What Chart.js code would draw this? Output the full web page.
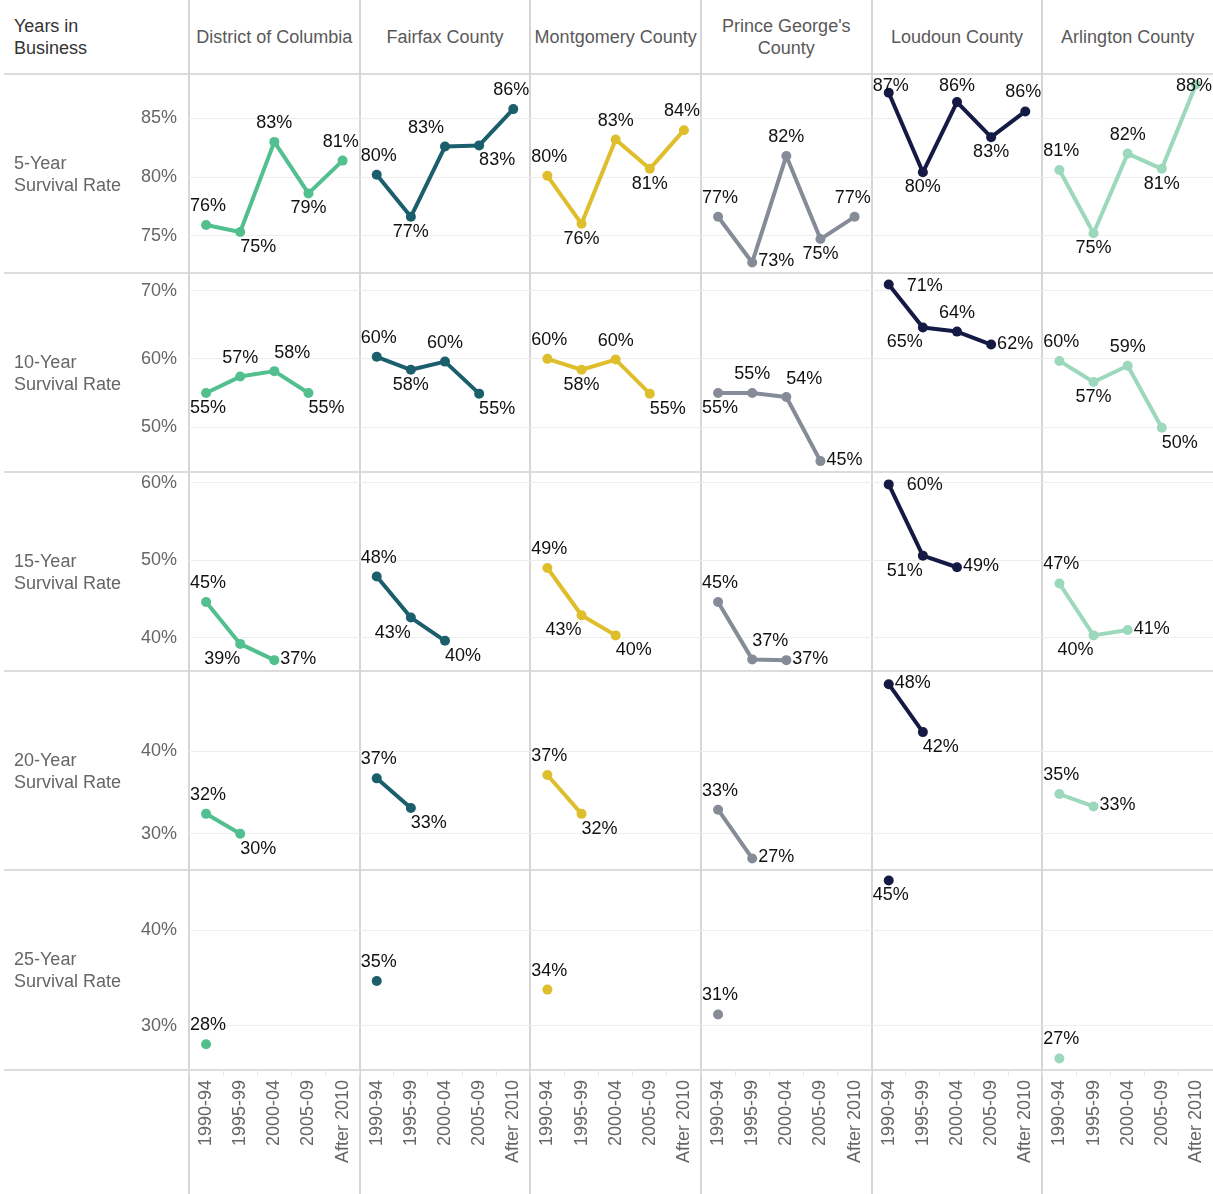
<!DOCTYPE html>
<html>
<head>
<meta charset="utf-8">
<title>Business Survival Rates by Jurisdiction</title>
<script src="https://cdn.jsdelivr.net/npm/chart.js@4.4.1/dist/chart.umd.min.js"></script>
<style>
  html, body { margin: 0; padding: 0; background: #fff; }
  #wrap { position: relative; width: 1213px; height: 1194px; overflow: hidden;
          font-family: 'Liberation Sans', Arial, sans-serif; background: #fff; }
  #wrap canvas { position: absolute; left: 0; z-index: 2; }
  .txt { position: absolute; display: flex; align-items: center; font-size: 18px;
         line-height: 22px; white-space: nowrap; z-index: 3; }
  .colhead { justify-content: center; text-align: center; color: #595959; }
  .rule { position: absolute; z-index: 1; }
</style>
</head>
<body>
<div id="wrap"></div>
<script>
// ---- data -------------------------------------------------------------
const periods = ['1990-94', '1995-99', '2000-04', '2005-09', 'After 2010'];
const counties = ['District of Columbia', 'Fairfax County', 'Montgomery County',
                  "Prince George's County", 'Loudoun County', 'Arlington County'];
const horizons = ['5-Year', '10-Year', '15-Year', '20-Year', '25-Year'];

// survival rate (%) per county, one sub-array per county, in period order
const fiveYear = [
  [75.9, 75.3, 83.0, 78.6, 81.4],
  [80.2, 76.6, 82.6, 82.7, 85.8],
  [80.1, 76.0, 83.2, 80.7, 84.0],
  [76.6, 72.7, 81.8, 74.7, 76.6],
  [87.2, 80.4, 86.4, 83.4, 85.6],
  [80.6, 75.2, 82.0, 80.7, 87.9]
];
const tenYear = [
  [55.0, 57.4, 58.2, 55.0],
  [60.3, 58.4, 59.6, 54.9],
  [60.0, 58.4, 59.9, 54.9],
  [55.0, 55.0, 54.4, 45.0],
  [70.9, 64.6, 64.0, 62.1],
  [59.7, 56.6, 59.0, 49.9]
];
const fifteenYear = [
  [44.6, 39.2, 37.1],
  [47.9, 42.6, 39.6],
  [49.0, 42.9, 40.3],
  [44.6, 37.2, 37.1],
  [59.8, 50.6, 49.1],
  [47.0, 40.3, 41.0]
];
const twentyYear = [
  [32.4, 30.0],
  [36.7, 33.1],
  [37.1, 32.4],
  [32.9, 27.0],
  [48.1, 42.3],
  [34.8, 33.3]
];
const twentyFiveYear = [
  [28.1],
  [34.7],
  [33.8],
  [31.2],
  [45.2],
  [26.6]
];
const rowSeries = [fiveYear, tenYear, fifteenYear, twentyYear, twentyFiveYear];

// y tick labels for each row
const yTickValues = [[75, 80, 85], [50, 60, 70], [40, 50, 60], [30, 40], [30, 40]];

// ---- styling ----------------------------------------------------------
const countyColors = ['#52bf8e', '#1b5e6c', '#dfbe2c', '#858c97', '#151a45', '#9bd8bc'];
const yRanges = [[71.8, 88.8], [43.4, 72.6], [35.7, 61.4], [25.6, 49.7], [25.4, 46.3]];

// where each value label sits around its point
const labelSpots = [
  [['T','BR','T','B','T'], ['T','B','TL','BR','T'], ['T','B','T','B','T'],
   ['T','R','T','B','T'], ['T','B','T','B','T'], ['T','B','T','B','T']],
  [['B','T','TR','BR'], ['T','B','T','BR'], ['T','B','T','BR'],
   ['B','T','TR','R'], ['RR','BL','T','R'], ['T','B','T','BR']],
  [['T','BL','R'], ['T','BL','BR'], ['T','BL','BR'],
   ['T','TR','R'], ['RR','BL','R'], ['T','BL','R']],
  [['T','BR'], ['T','BR'], ['T','BR'], ['T','R'], ['R','BR'], ['T','R']],
  [['T'], ['T'], ['T'], ['T'], ['B'], ['T']]
];
const spotOffsets = { T: [0, -19], B: [0, 15], R: [24, -1], RR: [36, 1],
                      TR: [18, -18], BR: [18, 15], BL: [-18, 15], TL: [-19, -19] };

// ---- layout -----------------------------------------------------------
const W = 1213, H = 1194, PLOT_LEFT = 189;
const rowEdges = [74, 273, 472, 671, 870, 1070];
const AXIS_H = H - rowEdges[rowEdges.length - 1];
const colW = (W - PLOT_LEFT) / counties.length;
const FONT = "'Liberation Sans', Arial, sans-serif";

const wrap = document.getElementById('wrap');

function addText(html, left, top, width, height, cls, color) {
  const d = document.createElement('div');
  d.className = 'txt ' + (cls || '');
  d.style.left = left + 'px'; d.style.top = top + 'px';
  d.style.width = width + 'px'; d.style.height = height + 'px';
  if (color) d.style.color = color;
  d.innerHTML = html;
  wrap.appendChild(d);
}
function addRule(left, top, width, height, color) {
  const d = document.createElement('div');
  d.className = 'rule';
  Object.assign(d.style, { left: left + 'px', top: top + 'px', width: width + 'px',
                           height: height + 'px', background: color });
  wrap.appendChild(d);
}

// headers
addText('Years in<br>Business', 14, 0, 170, rowEdges[0], '', '#333');
counties.forEach((name, c) => {
  const html = name === "Prince George's County" ? "Prince George's<br>County" : name;
  addText(html, PLOT_LEFT + c * colW, 0, colW, rowEdges[0], 'colhead');
});
horizons.forEach((h, r) => {
  addText(h + '<br>Survival Rate', 14, rowEdges[r], 120, rowEdges[r + 1] - rowEdges[r], '', '#666');
});

// panel rules (beneath the transparent chart canvases)
rowEdges.forEach(y => addRule(4, y - 1, W - 4, 2, '#dcdcdc'));
for (let c = 0; c < counties.length; c++) {
  addRule(Math.round(PLOT_LEFT + c * colW) - 1, 0, 2, H, '#d6d6d6');
}

// value labels drawn next to every point
const valueLabels = {
  id: 'valueLabels',
  afterDatasetsDraw(chart, args, opts) {
    const ctx = chart.ctx, area = chart.chartArea;
    const cw = (area.right - area.left) / counties.length;
    ctx.save();
    ctx.font = '18px ' + FONT;
    ctx.fillStyle = '#111';
    ctx.textAlign = 'center';
    ctx.textBaseline = 'middle';
    chart.data.datasets.forEach((ds, c) => {
      const meta = chart.getDatasetMeta(c);
      meta.data.forEach((pt, i) => {
        const v = ds.data[i];
        if (v === null || v === undefined) return;
        const k = i - c * periods.length;
        const code = (opts.spots[c] && opts.spots[c][k]) || 'T';
        const [dx, dy] = spotOffsets[code];
        const text = Math.round(v) + '%';
        const tw = ctx.measureText(text).width, th = 18;
        const l = area.left + c * cw, r = l + cw;
        let x = pt.x + dx, y = pt.y + dy;
        x = Math.min(Math.max(x, l + tw / 2 + 1), r - tw / 2 - 1);
        y = Math.min(Math.max(y, area.top + th / 2 + 3), area.bottom - th / 2 - 2);
        ctx.fillText(text, x, y);
      });
    });
    ctx.restore();
  }
};

// one chart per survival horizon, all six jurisdictions side by side
const categoryLabels = counties.flatMap(() => periods);

rowSeries.forEach((series, r) => {
  const last = r === rowSeries.length - 1;
  const top = rowEdges[r];
  const h = rowEdges[r + 1] - rowEdges[r] + (last ? AXIS_H : 0);
  const canvas = document.createElement('canvas');
  canvas.width = W; canvas.height = h;
  canvas.style.top = top + 'px';
  canvas.style.width = W + 'px'; canvas.style.height = h + 'px';
  wrap.appendChild(canvas);

  const datasets = series.map((vals, c) => {
    const data = categoryLabels.map(() => null);
    vals.forEach((v, i) => { data[c * periods.length + i] = v; });
    return {
      label: counties[c],
      data,
      borderColor: countyColors[c],
      backgroundColor: countyColors[c],
      pointBackgroundColor: countyColors[c],
      pointBorderWidth: 0,
      pointRadius: 5,
      pointHoverRadius: 5,
      borderWidth: 4,
      borderJoinStyle: 'round',
      borderCapStyle: 'round',
      spanGaps: false,
      tension: 0,
      clip: 8
    };
  });

  new Chart(canvas, {
    type: 'line',
    data: { labels: categoryLabels, datasets },
    options: {
      responsive: false,
      animation: false,
      devicePixelRatio: 1,
      layout: { padding: 0, autoPadding: false },
      events: [],
      plugins: {
        legend: { display: false },
        tooltip: { enabled: false },
        valueLabels: { spots: labelSpots[r] }
      },
      scales: {
        x: {
          type: 'category',
          offset: true,
          display: last,
          border: { display: false },
          grid: { display: true, drawOnChartArea: false, offset: true,
                  tickLength: 6, color: '#e6e6e6' },
          ticks: { autoSkip: false, maxRotation: 90, minRotation: 90, padding: 4,
                   color: '#666', font: { family: FONT, size: 18 } },
          afterFit(s) { s.height = last ? AXIS_H : 0; s.paddingLeft = 0; s.paddingRight = 0; }
        },
        y: {
          min: yRanges[r][0],
          max: yRanges[r][1],
          border: { display: false },
          grid: { color: '#eeeeee', lineWidth: 1, drawTicks: false },
          ticks: { padding: 12, color: '#666', font: { family: FONT, size: 18 },
                   callback: v => v + '%' },
          afterBuildTicks(s) { s.ticks = yTickValues[r].map(v => ({ value: v })); },
          afterFit(s) { s.width = PLOT_LEFT; s.paddingTop = 0; s.paddingBottom = 0; }
        }
      }
    },
    plugins: [valueLabels]
  });
});
</script>
</body>
</html>
